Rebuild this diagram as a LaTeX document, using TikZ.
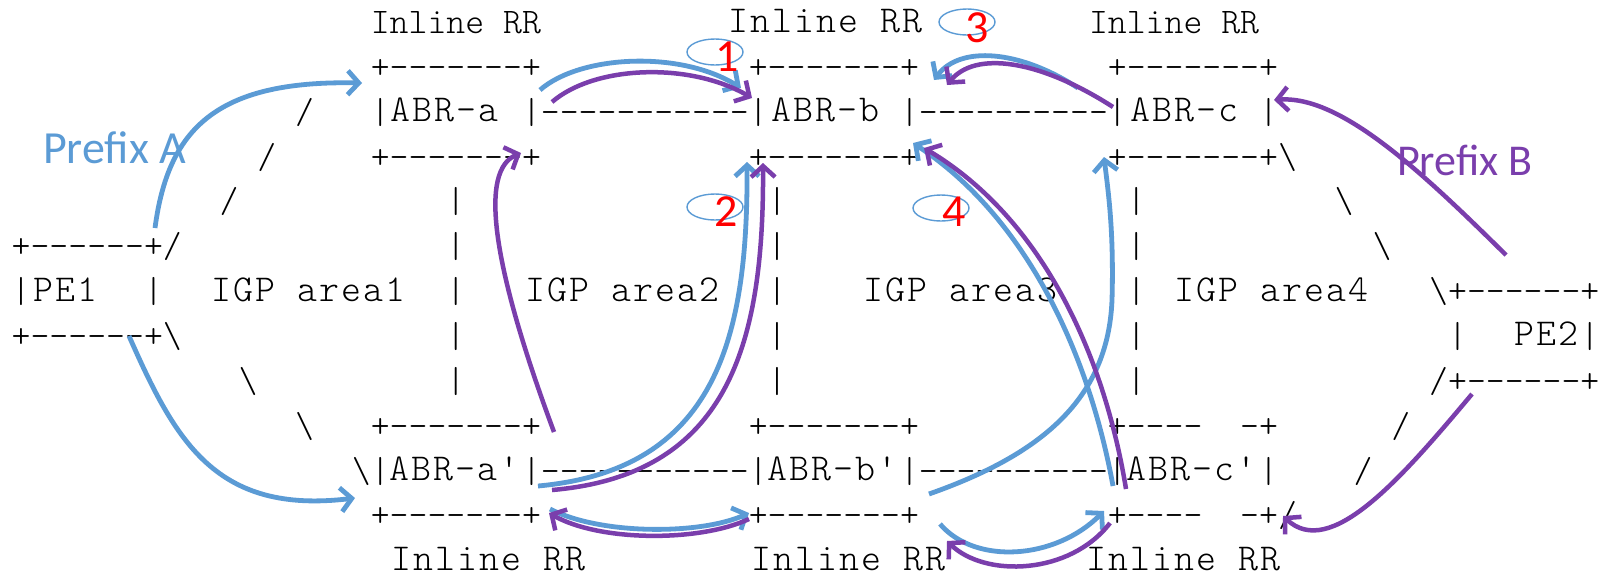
\documentclass[tikz,border=0pt]{standalone}
\usepackage{fontspec}
\setmainfont{Carlito}
\setmonofont{lmmonolt10-regular.otf}
\usetikzlibrary{arrows.meta}
\usetikzlibrary{shapes.geometric}

\definecolor{blueA}{RGB}{91,155,213}
\definecolor{purpleB}{RGB}{122,62,172}

\begin{document}
\begin{tikzpicture}[x=1pt,y=-1pt,
    asc/.style={anchor=base west,inner sep=0pt,font=\ttfamily\fontsize{36}{40}\selectfont},
    lab/.style={anchor=base west,inner sep=0pt,font=\ttfamily\fontsize{38}{40}\selectfont\addfontfeature{LetterSpace=5.4}},
    pa/.style={blueA,line width=4.8pt,-{Straight Barb[length=11pt,width=24pt]}},
    pb/.style={purpleB,line width=4.5pt,-{Straight Barb[length=11pt,width=24pt]}},
    ring/.style={ellipse,draw=blueA,line width=1.4pt,minimum width=56pt,minimum height=26pt,inner sep=0pt},
    num/.style={text=red,inner sep=0pt,font=\fontsize{46}{50}\selectfont}]
    \path[use as bounding box,fill=white] (0,0) rectangle (1602,576);

    % the ascii frame, one piece per column/row
    \foreach \cl/\rw/\txt [count=\k] in {19/0/Inline~RR, 57/0/Inline~RR,
        19/1/+-------+, 39/1/+-------+, 58/1/+-------+,
        15/2/{/}, 19/2/|, 27/2/|-----------|, 47/2/|----------|, 66/2/|,
        13/3/{/}, 19/3/+-------+, 39/3/+-------+, 58/3/+-------+\textbackslash,
        11/4/{/}, 23/4/|, 40/4/|, 59/4/|, 70/4/\textbackslash,
        0/5/{+------+/}, 23/5/|, 40/5/|, 59/5/|, 72/5/\textbackslash,
        0/6/|, 7/6/|, 23/6/|, 40/6/|, 59/6/|, 75/6/\textbackslash+------+,
        0/7/+------+\textbackslash, 23/7/|, 40/7/|, 59/7/|, 76/7/|, 83/7/|,
        12/8/\textbackslash, 23/8/|, 40/8/|, 59/8/|, 75/8/{/+------+},
        15/9/\textbackslash, 19/9/+-------+, 39/9/+-------+, 58/9/+----~~-+, 73/9/{/},
        18/10/\textbackslash|, 27/10/|-----------|, 47/10/|----------|, 66/10/|, 71/10/{/},
        19/11/+-------+, 39/11/+-------+, 58/11/{+----~~-+/}}
        \node[asc] (t\k) at ({11.5+18.9*\cl},{33.5+44.85*\rw}) {\txt};

    % the names, typed a bit wider
    \foreach \px/\rw/\txt [count=\k] in {728/0/Inline~RR,
        390/2/ABR-a, 771/2/ABR-b, 1130/2/ABR-c,
        33/6/PE1, 211/6/IGP~area1, 525/6/IGP~area2, 863/6/IGP~area3, 1174/6/IGP~area4,
        1514/7/PE2,
        389.5/10/ABR-a', 767.5/10/ABR-b', 1126.6/10/ABR-c',
        391/12/Inline~RR, 751/12/Inline~RR, 1086/12/Inline~RR}
        \node[lab] (l\k) at (\px,{32+44.85*\rw}) {\txt};

    % labels
    \node[anchor=base west,inner sep=0pt,text=blueA,font=\fontsize{46}{50}\selectfont] (prefa) at (43,163) {Prefix A};
    \node[anchor=base west,inner sep=0pt,text=purpleB,font=\fontsize{44}{48}\selectfont] (prefb) at (1397,175) {Prefix B};

    % end points of the arrows
    \coordinate (a1s) at (155,228);   \coordinate (a1e) at (362,83);
    \coordinate (a2s) at (129,336);   \coordinate (a2e) at (355,498);
    \coordinate (a3s) at (540,90);    \coordinate (a3e) at (741,88);
    \coordinate (b3s) at (552,102);   \coordinate (b3e) at (752,98);
    \coordinate (a4s) at (538,486);   \coordinate (a4e) at (747,162);
    \coordinate (b4s) at (552,490);   \coordinate (b4e) at (763,163);
    \coordinate (b5s) at (554,432);   \coordinate (b5e) at (521,153);
    \coordinate (a6s) at (550,509);   \coordinate (a6e) at (749,513);
    \coordinate (b6s) at (749,519);   \coordinate (b6e) at (549,513);
    \coordinate (a7s) at (929,494);   \coordinate (a7e) at (1104,157);
    \coordinate (a8s) at (1113,486);  \coordinate (a8e) at (913,143);
    \coordinate (b8s) at (1126,489);  \coordinate (b8e) at (924,148);
    \coordinate (a9s) at (940,524);   \coordinate (a9e) at (1104,511);
    \coordinate (b9s) at (1110,523);  \coordinate (b9e) at (947,541);
    \coordinate (a10s) at (1078,88);  \coordinate (a10e) at (934,80);
    \coordinate (b10s) at (1113,107); \coordinate (b10e) at (947,85);
    \coordinate (b11s) at (1506,255); \coordinate (b11e) at (1274,100);
    \coordinate (b12s) at (1472,394); \coordinate (b12e) at (1283,516);

    % prefix A
    \draw[pa] (a1s) .. controls (168,130) and (215,80) .. (a1e);
    \draw[pa] (a2s) .. controls (175,440) and (215,515) .. (a2e);
    \draw[pa] (a3s) .. controls (580,55) and (680,50) .. (a3e);
    \draw[pa] (a4s) .. controls (715,470) and (748,340) .. (a4e);
    \draw[pa] (a6s) .. controls (600,535) and (700,535) .. (a6e);
    \draw[pa] (a7s) .. controls (1040,455) and (1108,400) .. (1112,300) .. controls (1114,230) and (1108,190) .. (a7e);
    \draw[pa] (a8s) .. controls (1090,360) and (1030,220) .. (a8e);
    \draw[pa] (a9s) .. controls (975,565) and (1055,560) .. (a9e);
    \draw[pa] (a10s) .. controls (1020,50) and (960,45) .. (a10e);

    % prefix B
    \draw[pb] (b3s) .. controls (595,65) and (690,62) .. (b3e);
    \draw[pb] (b4s) .. controls (728,475) and (764,345) .. (b4e);
    \draw[pb] (b5s) .. controls (490,260) and (480,170) .. (b5e);
    \draw[pb] (b6s) .. controls (700,542) and (600,542) .. (b6e);
    \draw[pb] (b8s) .. controls (1105,360) and (1045,220) .. (b8e);
    \draw[pb] (b9s) .. controls (1070,575) and (985,578) .. (b9e);
    \draw[pb] (b10s) .. controls (1040,60) and (975,50) .. (b10e);
    \draw[pb] (b11s) .. controls (1420,170) and (1340,95) .. (b11e);
    \draw[pb] (b12s) .. controls (1400,480) and (1330,560) .. (b12e);

    % step numbers
    \foreach \n/\ox/\oy/\nx/\ny in {1/715/52/727/57, 2/715/207/726/212, 3/967/22/977/28, 4/941/208/954/212}
    {
        \node[ring] (o\n) at (\ox,\oy) {};
        \node[num] (n\n) at (\nx,\ny) {\n};
    }
\end{tikzpicture}
\end{document}
